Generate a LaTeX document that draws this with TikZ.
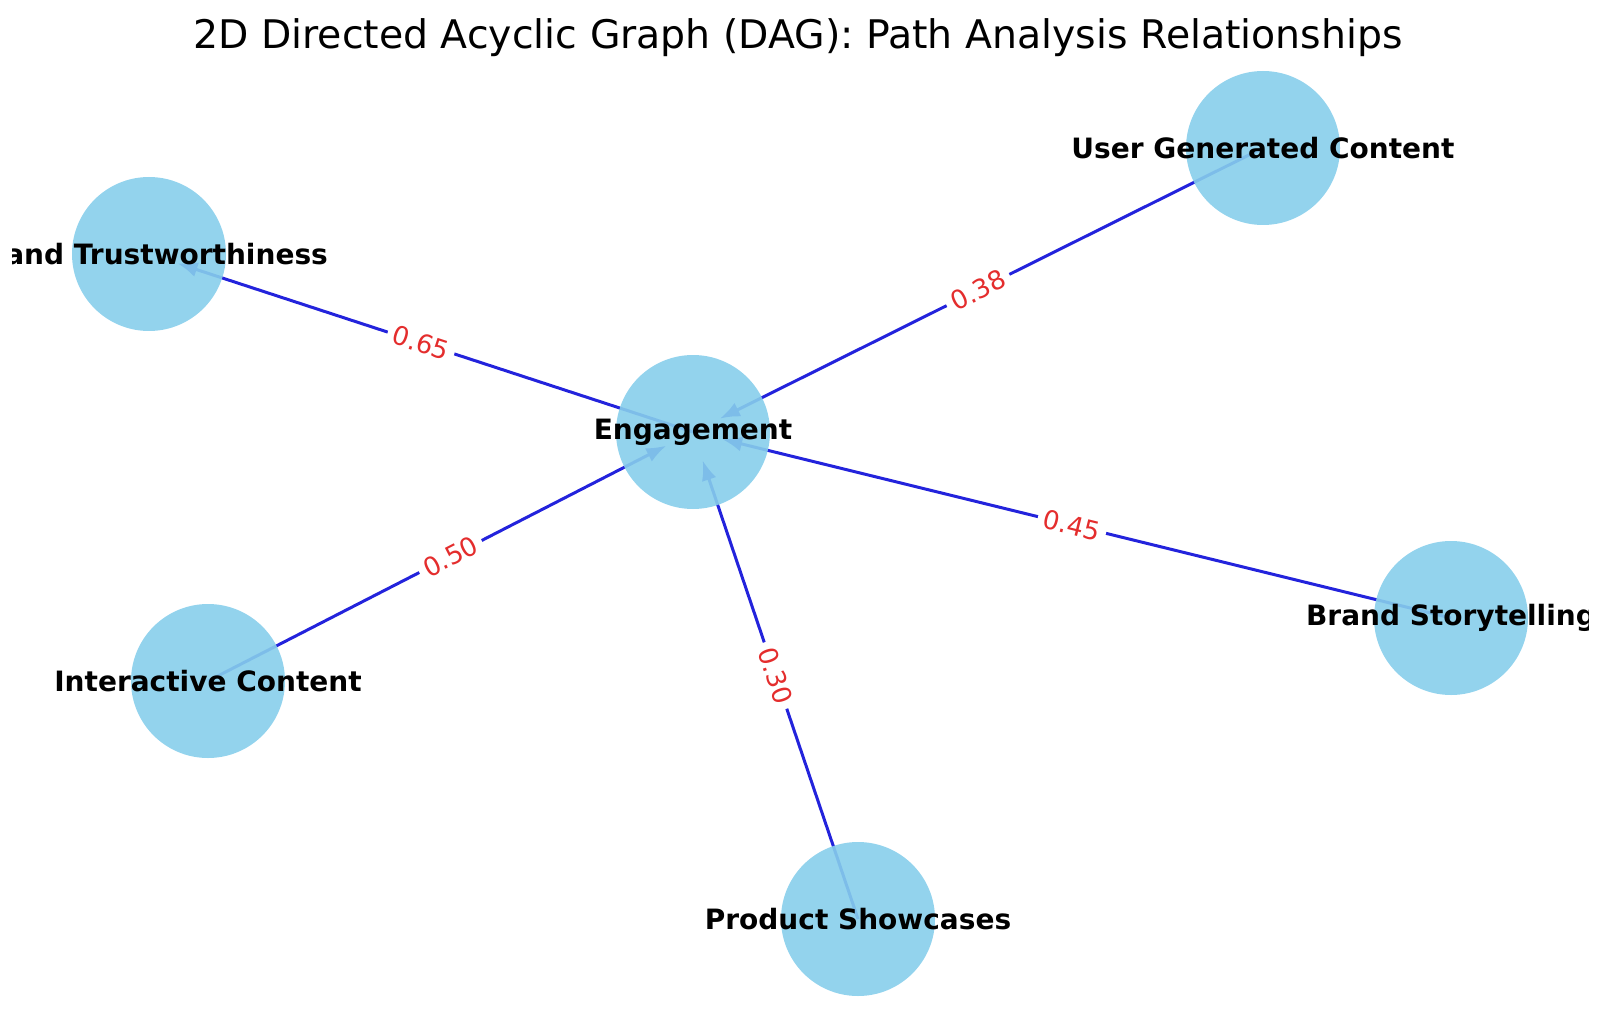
\documentclass[tikz,border=0pt]{standalone}
\usepackage{fontspec}
\setmainfont{DejaVu Sans}
\usepackage{tikz}
\usetikzlibrary{arrows.meta}
\usetikzlibrary{backgrounds}
\tikzset{>={Latex[length=10pt, width=7.5pt]}}
\definecolor{nodeblue}{RGB}{135,206,235}
\definecolor{edgeblue}{RGB}{35,35,220}
\definecolor{weightred}{RGB}{228,45,45}

\begin{document}
\begin{tikzpicture}[x=0.5pt, y=-0.5pt,
    factor/.style={circle, fill=nodeblue, fill opacity=0.9, text opacity=1, minimum size=77pt, inner sep=0pt},
    link/.style={edgeblue, line width=1.5pt, ->, shorten >=15pt},
    weight/.style={sloped, fill=white, text=weightred, inner sep=3pt, rounded corners=3pt,
        font=\fontsize{13pt}{15pt}\selectfont}]
    \useasboundingbox (0, 0) rectangle (1604, 1010);
    \node[anchor=base, font=\fontsize{19.7pt}{23pt}\selectfont] (title) at (798, 49)
        {2D Directed Acyclic Graph (DAG): Path Analysis Relationships};
    \begin{scope}
        \clip (12, 60) rectangle (1588, 1010);
        \foreach \factor/\x/\y/\name in {eng/693/432/Engagement, ugc/1263/148/User Generated Content,
            trust/149/254/Brand Trustworthiness, inter/208/681/Interactive Content,
            prod/858/919/Product Showcases, story/1451/618/Brand Storytelling} {
            \node[factor, label={[font=\bfseries\fontsize{14pt}{17pt}\selectfont]center:\name}] (\factor) at (\x, \y) {};
        }
    \end{scope}
    \begin{scope}[on background layer]
        \foreach \from/\to/\w in {eng/trust/0.65, ugc/eng/0.38, inter/eng/0.50, prod/eng/0.30, story/eng/0.45} {
            \draw[link] (\from.center) -- node[weight] {\w} (\to.center);
        }
    \end{scope}
\end{tikzpicture}
\end{document}
